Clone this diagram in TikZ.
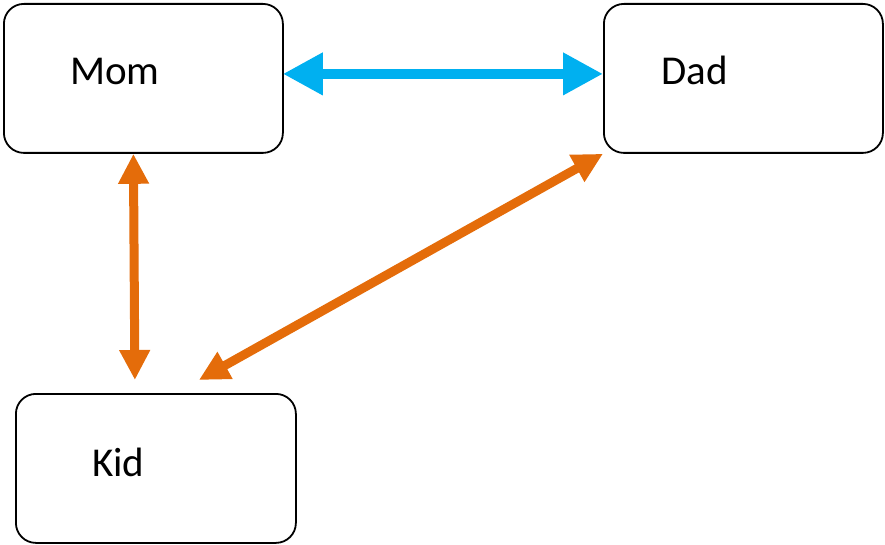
\documentclass[tikz,border=0pt]{standalone}
\usepackage{fontspec}
\setmainfont{Carlito}
\usetikzlibrary{arrows.meta}
\definecolor{skyblue}{HTML}{00B0F0}
\definecolor{burnt}{HTML}{E46C0A}
\begin{document}
\begin{tikzpicture}[x=1pt,y=-1pt,
  box/.style={draw=black,line width=1.8pt,rounded corners=20pt,fill=white},
  lbl/.style={font=\fontsize{41}{48}\selectfont,anchor=base west,inner sep=0pt},
  bluearrow/.style={draw=skyblue,line width=10pt,{Triangle[length=40pt,width=40pt]}-{Triangle[length=40pt,width=40pt]}},
  orangearrow/.style={draw=burnt,line width=9pt,{Triangle[length=30pt,width=29pt]}-{Triangle[length=30pt,width=29pt]}}]
\useasboundingbox (0,0) rectangle (885,545);
\node[box,minimum width=279pt,minimum height=149pt,anchor=north west] (mom) at (3,3) {};
\node[box,minimum width=279pt,minimum height=149pt,anchor=north west] (dad) at (603,3) {};
\node[box,minimum width=280pt,minimum height=149pt,anchor=north west] (kid) at (15,393) {};
\node[lbl] (momt) at (70,85) {Mom};
\node[lbl] (dadt) at (661,85) {Dad};
\node[lbl] (kidt) at (92,476) {Kid};
\draw[bluearrow] ([xshift=-1pt,yshift=4.5pt]mom.east) -- ([yshift=4.5pt]dad.west);
\draw[orangearrow] ([xshift=-10pt]mom.south) -- ([xshift=-21pt,yshift=13pt]kid.north);
\draw[orangearrow] (dad.south west) -- ([xshift=43pt,yshift=13pt]kid.north);
\end{tikzpicture}
\end{document}
